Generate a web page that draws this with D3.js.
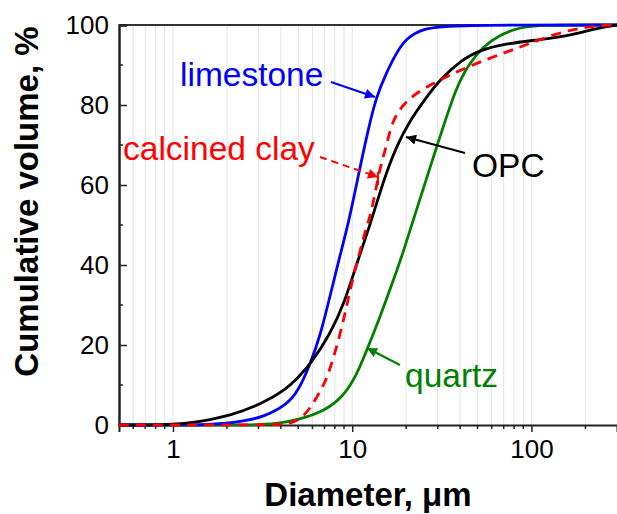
<!DOCTYPE html>
<html>
<head>
<meta charset="utf-8">
<script src="https://cdn.jsdelivr.net/npm/d3@7"></script>
<style>
  body { margin: 0; background: #fff; }
  text { font-family: "Liberation Sans", Arial, sans-serif; }
</style>
</head>
<body>
<svg id="chart" width="617" height="514"></svg>
<script>
// particle size distributions (diameter in um, cumulative volume in %)
const limestoneD = [0.5, 1, 1.5, 2.0, 2.5, 3.2, 4.3, 5.0, 5.8, 6.6, 7.5, 8.5, 9.6, 11.0, 12.3, 13.6, 15.5, 17.6, 20, 25, 35, 300];
const limestoneV = [0, 0, 0.05, 0.4, 1.0, 2.0, 5.0, 8.5, 15, 22, 32, 42, 51, 64, 74, 82, 88, 93, 96.7, 99.2, 100, 100];

const opcD = [0.5, 1, 1.4, 2.1, 3.2, 4.3, 4.9, 5.8, 7.5, 9.1, 10.6, 12.8, 14.9, 17.6, 20.9, 26, 30.8, 40, 51, 73, 111, 171, 230, 300];
const opcV = [0, 0, 0.8, 2.3, 5.5, 9, 11.5, 15, 22.5, 30.8, 40.4, 51, 61, 69.6, 76, 82, 86.3, 91, 93.7, 95.4, 96.3, 97.5, 99.2, 100];

const clayD = [0.5, 3.8, 4.5, 5.1, 5.67, 6.9, 7.5, 8.5, 9.3, 10.1, 11, 12, 12.8, 14.2, 15.5, 16.9, 20.9, 28.2, 35, 49, 73, 98, 138, 194, 265, 300];
const clayV = [0, 0, 0.3, 1.5, 3.3, 9.6, 13.75, 22, 29.6, 37, 43, 49.6, 53, 64, 69.6, 77, 82, 85.4, 87.5, 90.4, 93.3, 95.4, 97.9, 99.4, 100, 100];

const quartzD = [0.5, 2.5, 3.05, 4.0, 4.9, 6.9, 8.9, 10.6, 12, 14.3, 16.9, 19.2, 21.8, 30.8, 38, 45, 53.7, 66, 86, 110, 300];
const quartzV = [0, 0, 0.1, 0.5, 1.25, 3.3, 7, 12.5, 18.5, 27, 36, 43, 51, 72, 84.5, 90.4, 94.6, 97.5, 99.4, 100, 100];

const xMajor = [1, 10, 100];
const xMinor = [0.6, 0.7, 0.8, 0.9, 2, 3, 4, 5, 6, 7, 8, 9, 20, 30, 40, 50, 60, 70, 80, 90, 200];
const yMajor = [0, 20, 40, 60, 80, 100];
const yMinor = [10, 30, 50, 70, 90];

const svg = d3.select('#chart');
const plotLeft = 119, plotRight = 617, plotTop = 25, plotBottom = 425;

const x = d3.scaleLog().domain([0.5, 300]).range([plotLeft, plotRight]);
const y = d3.scaleLinear().domain([0, 100]).range([plotBottom, plotTop]);

// grid lines
svg.append('g')
    .selectAll('line')
    .data(xMajor.concat(xMinor))
    .enter()
    .append('line')
    .attr('x1', d => x(d)).attr('x2', d => x(d))
    .attr('y1', plotTop).attr('y2', plotBottom)
    .attr('stroke', '#e4e4e4')
    .attr('stroke-width', 1);

// top border
svg.append('line')
    .attr('x1', plotLeft).attr('x2', plotRight)
    .attr('y1', plotTop).attr('y2', plotTop)
    .attr('stroke', '#333').attr('stroke-width', 2);

// bottom axis
const xAxis = svg.append('g').attr('transform', 'translate(0,' + plotBottom + ')');
xAxis.call(d3.axisBottom(x).tickValues(xMajor).tickFormat(d3.format('d')).tickSize(7).tickPadding(8));
xAxis.append('g').selectAll('line')
    .data(xMinor)
    .enter()
    .append('line')
    .attr('x1', d => x(d)).attr('x2', d => x(d))
    .attr('y1', 0).attr('y2', 4)
    .attr('stroke', '#222').attr('stroke-width', 1.5);
xAxis.select('.domain').attr('stroke', '#222').attr('stroke-width', 2);
xAxis.selectAll('.tick line').attr('stroke', '#222').attr('stroke-width', 1.5);
xAxis.selectAll('.tick text').attr('font-size', 26).attr('fill', '#000')
    .style('font-family', '"Liberation Sans", Arial, sans-serif');

// left axis, ticks point inward
const yAxis = svg.append('g').attr('transform', 'translate(' + plotLeft + ',0)');
yAxis.call(d3.axisLeft(y).tickValues(yMajor).tickSize(-8).tickPadding(10));
yAxis.append('g').selectAll('line')
    .data(yMinor)
    .enter()
    .append('line')
    .attr('x1', 0).attr('x2', 4)
    .attr('y1', d => y(d)).attr('y2', d => y(d))
    .attr('stroke', '#222').attr('stroke-width', 1.5);
yAxis.select('.domain').attr('stroke', '#222').attr('stroke-width', 2.5);
yAxis.selectAll('.tick line').attr('stroke', '#222').attr('stroke-width', 1.5);
yAxis.selectAll('.tick text').attr('font-size', 26).attr('fill', '#000')
    .style('font-family', '"Liberation Sans", Arial, sans-serif');

// axis titles
svg.append('text')
    .attr('x', (plotLeft + plotRight) / 2).attr('y', 506)
    .attr('text-anchor', 'middle')
    .attr('font-size', 33).attr('font-weight', 'bold')
    .text('Diameter, μm');

svg.append('text')
    .attr('transform', 'translate(38,' + ((plotTop + 378) / 2) + ') rotate(-90)')
    .attr('text-anchor', 'middle')
    .attr('font-size', 33).attr('font-weight', 'bold')
    .text('Cumulative volume, %');

// curves
const line = d3.line()
    .x(d => x(d[0]))
    .y(d => y(d[1]))
    .curve(d3.curveBasis);

const series = [
    { d: quartzD, v: quartzV, color: '#008000', dash: null },
    { d: limestoneD, v: limestoneV, color: '#0000ff', dash: null },
    { d: opcD, v: opcV, color: '#000000', dash: null },
    { d: clayD, v: clayV, color: '#ff0000', dash: '10,7' }
];

svg.append('g')
    .selectAll('path')
    .data(series)
    .enter()
    .append('path')
    .attr('d', s => line(s.d.map((d, i) => [d, s.v[i]])))
    .attr('fill', 'none')
    .attr('stroke', s => s.color)
    .attr('stroke-width', 2.8)
    .attr('stroke-dasharray', s => s.dash);

// annotations
const defs = svg.append('defs');
['#0000ff', '#000000', '#ff0000', '#008000'].forEach((c, i) => {
    defs.append('marker')
        .attr('id', 'arrow' + i)
        .attr('viewBox', '0 0 10 10')
        .attr('refX', 10).attr('refY', 5)
        .attr('markerWidth', 6).attr('markerHeight', 5)
        .attr('markerUnits', 'strokeWidth')
        .attr('orient', 'auto')
        .append('path')
        .attr('d', 'M0,0 L10,5 L0,10 z')
        .attr('fill', c);
});

const notes = [
    { text: 'limestone', tx: 180, ty: 86, color: '#0000ff', from: [331, 82], to: [375, 97], m: 0, dash: null },
    { text: 'calcined clay', tx: 123, ty: 160, color: '#ff0000', from: [320, 157], to: [378, 177], m: 2, dash: '7,5' },
    { text: 'OPC', tx: 472, ty: 177, color: '#000000', from: [465, 153], to: [406, 137], m: 1, dash: null },
    { text: 'quartz', tx: 405, ty: 387, color: '#008000', from: [400, 365], to: [367, 348], m: 3, dash: null }
];

svg.append('g')
    .selectAll('line')
    .data(notes)
    .enter()
    .append('line')
    .attr('x1', d => d.from[0]).attr('y1', d => d.from[1])
    .attr('x2', d => d.to[0]).attr('y2', d => d.to[1])
    .attr('stroke', d => d.color)
    .attr('stroke-width', 2)
    .attr('stroke-dasharray', d => d.dash)
    .attr('marker-end', d => 'url(#arrow' + d.m + ')');

// small bar at the tip of the dashed arrow
svg.append('line')
    .attr('x1', 378).attr('x2', 378)
    .attr('y1', 172).attr('y2', 185)
    .attr('stroke', '#ff0000').attr('stroke-width', 2);

svg.append('g')
    .selectAll('text')
    .data(notes)
    .enter()
    .append('text')
    .attr('x', d => d.tx).attr('y', d => d.ty)
    .attr('font-size', 33.5)
    .attr('fill', d => d.color)
    .text(d => d.text);
</script>
</body>
</html>
